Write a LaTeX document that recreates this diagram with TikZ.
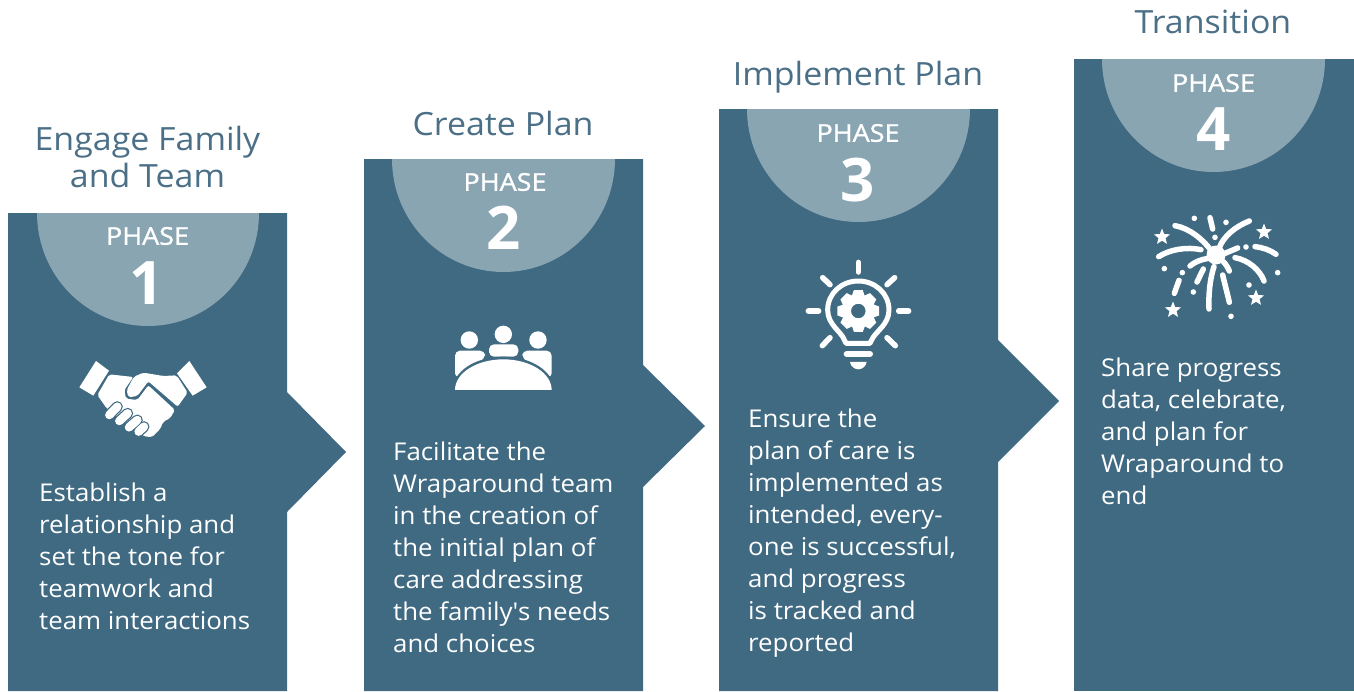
\documentclass[tikz,border=0pt]{standalone}
\usepackage{fontspec}
\usetikzlibrary{shapes.geometric}
\setmainfont{Open Sans}
\newfontfamily\titlefont[FakeStretch=1.06]{Open Sans}
\newfontfamily\phasefont[FakeStretch=1.1,FakeBold=1.2]{Open Sans}
\newfontfamily\bodyfont[FakeStretch=1.055]{Open Sans}
\definecolor{panel}{HTML}{3F6A82}
\definecolor{disc}{HTML}{8AA5B2}
\definecolor{head}{HTML}{4A6F86}
\tikzset{
  panelshape/.style={fill=panel,draw=none},
  discshape/.style={fill=disc,draw=none},
  titletext/.style={text=head,font=\titlefont\fontsize{32}{37}\selectfont,align=center,inner sep=0pt},
  phasetext/.style={text=white,font=\phasefont\fontsize{24.5}{28}\selectfont,inner sep=0pt},
  numtext/.style={text=white,font=\fontsize{60}{60}\selectfont\bfseries,inner sep=0pt},
  bodytext/.style={text=white,font=\bodyfont\fontsize{24.5}{32}\selectfont,align=left,inner sep=0pt,anchor=north west},
  icon/.style={x=0.3333pt,y=-0.3333pt},
  iline/.style={draw=white,line width=5.5pt,line cap=round},
  ifill/.style={fill=white,draw=none},
  sparkstar/.style={star,star points=5,star point ratio=2.3,fill=white,draw=none,inner sep=0pt,minimum size=17pt}
}
\begin{document}
\begin{tikzpicture}[x=1pt,y=-1pt]
\useasboundingbox (0,0) rectangle (1354,691);
% panels
\fill[panelshape] (8,691) -- (8,213) -- (287,213) -- (287,392) -- (346,452) -- (287,512) -- (287,691) -- cycle;
\fill[panelshape] (364,691) -- (364,159) -- (643,159) -- (643,365) -- (705,426) -- (643,487) -- (643,691) -- cycle;
\fill[panelshape] (719,691) -- (719,109) -- (998,109) -- (998,340) -- (1059,401) -- (998,462) -- (998,691) -- cycle;
\fill[panelshape] (1074,691) -- (1074,59) -- (1354,59) -- (1354,691) -- cycle;
% discs
\fill[discshape] (37,213) arc[start angle=180,end angle=360,x radius=111,y radius=-113] -- cycle;
\fill[discshape] (392,159) arc[start angle=180,end angle=360,x radius=111.5,y radius=-113] -- cycle;
\fill[discshape] (747,109) arc[start angle=180,end angle=360,x radius=111.5,y radius=-113] -- cycle;
\fill[discshape] (1102,59) arc[start angle=180,end angle=360,x radius=111.5,y radius=-113] -- cycle;
% titles
\node[titletext] (t1) at (147.5,157) {Engage Family\\and Team};
\node[titletext,anchor=base] (t2) at (503,135) {Create Plan};
\node[titletext,anchor=base] (t3) at (858,85) {Implement Plan};
\node[titletext,anchor=base] (t4) at (1213,33) {Transition};
% phase labels
\node[phasetext] (p1) at (147.5,236) {PHASE};
\node[phasetext] (p2) at (505,182) {PHASE};
\node[phasetext] (p3) at (858,133) {PHASE};
\node[phasetext] (p4) at (1213.5,83) {PHASE};
\node[numtext] (n1) at (147,283) {1};
\node[numtext] (n2) at (503.5,228) {2};
\node[numtext] (n3) at (858,180) {3};
\node[numtext] (n4) at (1213.5,129) {4};
% body
\node[bodytext] (b1) at (39,482.5) {Establish a\\relationship and\\set the tone for\\teamwork and\\team interactions};
\node[bodytext] (b2) at (393,441.5) {Facilitate the\\Wraparound team\\in the creation of\\the initial plan of\\care addressing\\the family\textquotesingle s needs\\and choices};
\node[bodytext] (b3) at (748,408.5) {Ensure the\\plan of care is\\implemented as\\intended, every-\\one is successful,\\and progress\\is tracked and\\reported};
\node[bodytext] (b4) at (1101,357.5) {Share progress\\data, celebrate,\\and plan for\\Wraparound to\\end};
% handshake
\begin{scope}[shift={(60,340)},icon]
\fill[ifill] (108,63) -- (147,92) -- (100,167) -- (58,142) -- cycle;
\fill[ifill] (388,63) -- (440,142) -- (398,167) -- (351,100) -- cycle;
\fill[ifill,rounded corners=2pt] (148,103) -- (220,111) -- (193,150) -- (198,176) -- (232,180) -- (265,136) -- (345,210) -- (330,235) -- (310,245) -- (300,268) -- (275,292) -- (250,288) -- (140,205) -- (112,165) -- cycle;
\fill[ifill,rounded corners=2pt] (222,110) -- (250,98) -- (310,108) -- (350,106) -- (383,158) -- (353,200) -- (265,124) -- (232,168) -- (205,172) -- (200,150) -- cycle;
\foreach \a/\b/\c/\d in {148/225/172/200, 178/243/203/220, 207/262/232/240, 236/275/252/260}{
  \draw[panel,line width=11pt,line cap=round] (\a,\b) -- (\c,\d);
}
\foreach \a/\b/\c/\d in {148/225/172/200, 178/243/203/220, 207/262/232/240, 236/275/252/260}{
  \draw[white,line width=8.5pt,line cap=round] (\a,\b) -- (\c,\d);
}
\end{scope}
% meeting
\begin{scope}[shift={(430,310)},icon]
\fill[ifill] (118,90) circle[radius=8.7pt];
\fill[ifill] (220,73) circle[radius=8.7pt];
\fill[ifill] (324,90) circle[radius=8.7pt];
\fill[ifill,rounded corners=5pt] (75,205) -- (75,122) -- (165,122) -- (165,145) -- cycle;
\fill[ifill,rounded corners=5pt] (365,205) -- (365,122) -- (277,122) -- (277,145) -- cycle;
\fill[ifill,rounded corners=5pt] (177,140) -- (177,103) -- (265,103) -- (265,140) -- cycle;
\begin{scope}
\clip (40,100) rectangle (400,240);
\fill[panel] (220,240) ellipse[x radius=152,y radius=100];
\fill[ifill] (220,240) ellipse[x radius=145,y radius=92];
\end{scope}
\end{scope}
% bulb
\begin{scope}[shift={(790,250)},icon]
\foreach \a/\b/\c/\d in {205/37/205/66, 98/83/120/104, 314/83/291/104, 55/183/86/183, 326/183/356/183, 120/263/97/287, 291/263/316/287}{
  \draw[iline] (\a,\b) -- (\c,\d);
}
\draw[white,line width=5pt,line join=round] (168,280) -- (240,280) -- (245,270) .. controls (255,245) and (297,225) .. (297,180)
  .. controls (297,130) and (255,93) .. (205,93) .. controls (155,93) and (113,130) .. (113,180)
  .. controls (113,225) and (155,245) .. (163,270) -- cycle;
\fill[white,even odd rule]
  ({205+64*cos(-12)},{183+64*sin(-12)}) -- ({205+64*cos(12)},{183+64*sin(12)})
  -- ({205+50*cos(22)},{183+50*sin(22)}) -- ({205+64*cos(33)},{183+64*sin(33)})
  -- ({205+64*cos(57)},{183+64*sin(57)}) -- ({205+50*cos(67)},{183+50*sin(67)})
  -- ({205+64*cos(78)},{183+64*sin(78)}) -- ({205+64*cos(102)},{183+64*sin(102)})
  -- ({205+50*cos(112)},{183+50*sin(112)}) -- ({205+64*cos(123)},{183+64*sin(123)})
  -- ({205+64*cos(147)},{183+64*sin(147)}) -- ({205+50*cos(157)},{183+50*sin(157)})
  -- ({205+64*cos(168)},{183+64*sin(168)}) -- ({205+64*cos(192)},{183+64*sin(192)})
  -- ({205+50*cos(202)},{183+50*sin(202)}) -- ({205+64*cos(213)},{183+64*sin(213)})
  -- ({205+64*cos(237)},{183+64*sin(237)}) -- ({205+50*cos(247)},{183+50*sin(247)})
  -- ({205+64*cos(258)},{183+64*sin(258)}) -- ({205+64*cos(282)},{183+64*sin(282)})
  -- ({205+50*cos(292)},{183+50*sin(292)}) -- ({205+64*cos(303)},{183+64*sin(303)})
  -- ({205+64*cos(327)},{183+64*sin(327)}) -- ({205+50*cos(337)},{183+50*sin(337)}) -- cycle
  (205,183) circle[radius=7.3pt];
\draw[white,line width=6pt,line cap=round] (170,312) -- (240,312);
\fill[ifill] (180,336) -- (230,336) .. controls (228,350) and (215,358) .. (205,358) .. controls (195,358) and (182,350) .. (180,336) -- cycle;
\end{scope}
% fireworks
\begin{scope}[shift={(1140,205)},icon]
\fill[ifill] (228,150) circle[radius=9.5pt];
\draw[iline] (105,62) .. controls (150,70) and (190,105) .. (212,135);
\draw[iline] (328,48) .. controls (285,65) and (250,95) .. (238,128);
\draw[iline] (56,155) .. controls (90,133) and (140,125) .. (183,134);
\draw[iline] (150,183) .. controls (165,170) and (185,163) .. (205,160);
\draw[iline] (255,145) -- (293,129);
\draw[iline] (285,158) .. controls (325,165) and (360,195) .. (372,228);
\draw[iline] (222,185) .. controls (210,220) and (205,270) .. (207,312);
\draw[iline] (248,210) .. controls (255,240) and (262,265) .. (268,292);
\draw[iline] (190,192) -- (171,231);
\draw[iline] (117,226) -- (103,265);
\draw[iline] (345,125) .. controls (370,128) and (390,135) .. (408,148);
\draw[iline] (210,38) -- (218,72);
\draw[iline] (250,170) .. controls (258,178) and (265,190) .. (268,198);
\foreach \a/\b in {163/40,258/52,225/97,318/126,73/191,127/203,413/203,327/240,160/261,273/334}{
  \fill[ifill] (\a,\b) circle[radius=2.8pt];
}
\end{scope}
\node[sparkstar] (s1) at (1162,237) {};
\node[sparkstar] (s2) at (1264,232) {};
\node[sparkstar] (s3) at (1256,298) {};
\node[sparkstar] (s4) at (1173,310) {};
\end{tikzpicture}
\end{document}
